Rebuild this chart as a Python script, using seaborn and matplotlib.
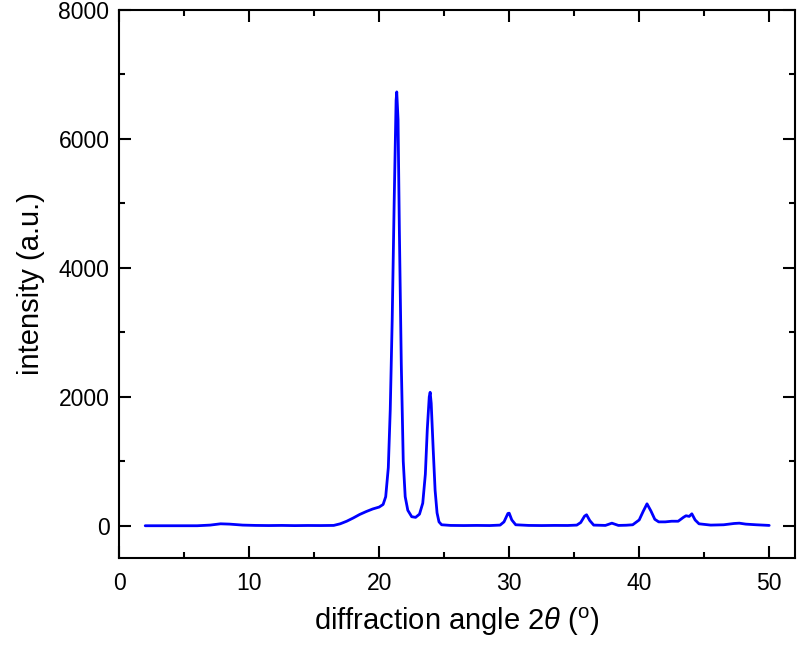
import numpy as np
import pandas as pd
import matplotlib
matplotlib.use("Agg")
import matplotlib.pyplot as plt
from matplotlib.ticker import MultipleLocator
import seaborn as sns

# diffraction angle 2theta (deg)
angle = [2.0, 3.0, 4.0, 5.0, 6.0, 7.0, 7.8, 8.5, 9.5, 10.5, 11.5, 12.5, 13.5, 14.5,
         15.5, 16.5, 17.0, 17.5, 18.0, 18.5, 19.0, 19.5, 20.0, 20.3, 20.5, 20.7,
         20.85, 21.0, 21.15, 21.3, 21.35, 21.45, 21.55, 21.7, 21.85, 22.0, 22.2,
         22.5, 22.8, 23.1, 23.35, 23.55, 23.7, 23.85, 23.92, 24.0, 24.15, 24.3,
         24.45, 24.6, 24.8, 25.5, 26.5, 27.5, 28.5, 29.3, 29.6, 29.9, 30.0, 30.2,
         30.5, 31.5, 32.5, 33.5, 34.5, 35.2, 35.5, 35.8, 35.95, 36.2, 36.5, 37.4,
         37.9, 38.4, 39.0, 39.5, 40.0, 40.3, 40.6, 40.9, 41.2, 41.5, 42.0, 42.5,
         43.0, 43.4, 43.6, 43.85, 44.05, 44.3, 44.6, 45.5, 46.5, 47.3, 47.7, 48.2,
         49.0, 49.5, 50.0]
# intensity (a.u.)
intensity = [0, 0, 0, 0, 0, 10, 30, 25, 10, 5, 3, 5, 2, 4,
             3, 5, 30, 70, 120, 175, 220, 260, 290, 330, 450, 900,
             1800, 3200, 5000, 6600, 6730, 6300, 4600, 2500, 1000, 450, 240,
             140, 130, 180, 350, 800, 1500, 2000, 2070, 1900, 1200, 550,
             200, 60, 15, 5, 3, 5, 3, 10, 60, 190, 195, 90,
             15, 5, 3, 5, 4, 10, 50, 150, 170, 80, 10, 5,
             40, 5, 8, 15, 90, 220, 340, 230, 100, 60, 60, 70,
             70, 130, 155, 145, 185, 90, 30, 10, 15, 35, 40, 25,
             15, 10, 5]

df = pd.DataFrame({"angle": angle, "intensity": intensity})

sns.set_theme(style="white")
plt.rcParams["font.family"] = ["Liberation Sans", "DejaVu Sans"]
plt.rcParams["mathtext.fontset"] = "custom"
plt.rcParams["mathtext.rm"] = "Liberation Sans"
plt.rcParams["mathtext.it"] = "Liberation Sans:italic"
plt.rcParams["text.color"] = "black"
plt.rcParams["axes.labelcolor"] = "black"
plt.rcParams["xtick.color"] = "black"
plt.rcParams["ytick.color"] = "black"

fig, ax = plt.subplots(figsize=(8.0, 6.47), dpi=100)
fig.subplots_adjust(left=0.149, right=0.994, top=0.9845, bottom=0.1376)

sns.lineplot(data=df, x="angle", y="intensity", ax=ax, color="#0000ff",
             linewidth=2.0, estimator=None)

ax.set_xlim(0, 52)
ax.set_ylim(-500, 8000)
ax.xaxis.set_major_locator(MultipleLocator(10))
ax.xaxis.set_minor_locator(MultipleLocator(5))
ax.yaxis.set_major_locator(MultipleLocator(2000))
ax.yaxis.set_minor_locator(MultipleLocator(1000))

ax.tick_params(which="both", direction="in", top=True, right=True,
               bottom=True, left=True, width=1.5, color="black",
               labelcolor="black")
ax.tick_params(which="major", length=8.6)
ax.tick_params(which="minor", length=4.3)
ax.tick_params(axis="x", which="major", labelsize=16.5, pad=10)
ax.tick_params(axis="y", which="major", labelsize=16.5, pad=7)

for sp in ax.spines.values():
    sp.set_visible(True)
    sp.set_color("black")
    sp.set_linewidth(1.5)

ax.set_xlabel(r"diffraction angle $\mathit{2\theta}$ ($^\mathrm{o}$)", fontsize=21,
              labelpad=8, color="black")
ax.set_ylabel("intensity (a.u.)", fontsize=21, labelpad=10, color="black")

fig.savefig("out.png", dpi=100)
